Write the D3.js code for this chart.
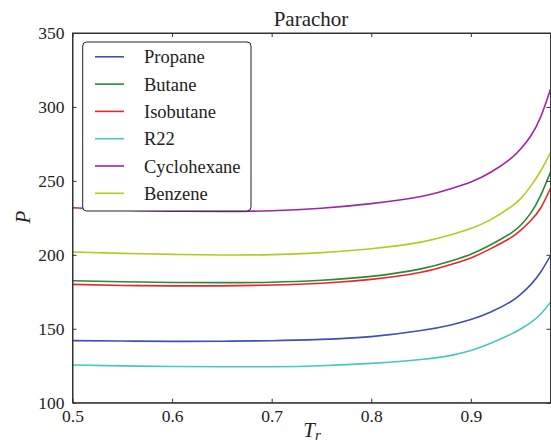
<!DOCTYPE html>
<html>
<head>
<meta charset="utf-8">
<script src="https://cdn.jsdelivr.net/npm/d3@7"></script>
<style>
  body { margin: 0; background: #fff; }
</style>
</head>
<body>
<svg width="551" height="444"></svg>
<script>
const svg = d3.select('svg');
const serif = '"Liberation Serif", "DejaVu Serif", serif';

// reduced temperature samples shared by all series
const tr = [0.5, 0.55, 0.6, 0.65, 0.7, 0.75, 0.8, 0.85, 0.88, 0.9, 0.92, 0.94, 0.95, 0.96, 0.97, 0.98];

const propane     = [142, 141.7, 141.5, 141.6, 141.9, 142.8, 144.7, 148.8, 152.6, 156.2, 161.3, 168.3, 173.3, 179.7, 188.2, 199.5];
const butane      = [182.5, 181.8, 181.3, 181.2, 181.5, 182.8, 185.4, 190.5, 195.8, 200.4, 206.8, 214.5, 220, 228, 240, 256];
const isobutane   = [180, 179.3, 179, 179, 179.6, 180.8, 183.4, 188.2, 193.5, 197.9, 204.2, 211.5, 216.5, 223, 231.5, 245];
const r22         = [125.5, 124.9, 124.5, 124.3, 124.3, 125, 126.6, 129.2, 132, 135.3, 140.2, 146.2, 149.8, 154.2, 159.8, 168];
const cyclohexane = [231.8, 230.3, 229.5, 229.3, 229.8, 231.5, 234.6, 239.4, 244.7, 249.2, 255.8, 265, 271.5, 280.2, 293, 312];
const benzene     = [201.9, 201, 200.3, 199.9, 200.1, 201.5, 204.1, 208.6, 213.5, 217.8, 223.8, 232.3, 238, 246.3, 256.5, 269];

const names  = ['Propane', 'Butane', 'Isobutane', 'R22', 'Cyclohexane', 'Benzene'];
const values = [propane, butane, isobutane, r22, cyclohexane, benzene];
const colors = ['#3f4fb8', '#268a3a', '#f02424', '#44c8c0', '#a024a4', '#b8c822'];

const xTicks = [0.5, 0.6, 0.7, 0.8, 0.9];
const yTicks = [100, 150, 200, 250, 300, 350];

const plotL = 72.5, plotR = 550.5, plotT = 33, plotB = 402.7;

const x = d3.scaleLinear().domain([0.5, 0.98]).range([plotL, plotR]);
const y = d3.scaleLinear().domain([100, 350]).range([plotB, plotT]);

svg.append('clipPath').attr('id', 'clip')
  .append('rect')
  .attr('x', plotL).attr('y', plotT)
  .attr('width', plotR - plotL).attr('height', plotB - plotT);

const line = d3.line()
  .x(function(d) { return x(d[0]); })
  .y(function(d) { return y(d[1]); })
  .curve(d3.curveNatural);

const series = names.map(function(n, i) {
  return { name: n, color: colors[i], pts: tr.map(function(t, j) { return [t, values[i][j]]; }) };
});

svg.append('g').attr('clip-path', 'url(#clip)')
  .selectAll('path')
  .data(series)
  .enter()
  .append('path')
    .attr('d', function(d) { return line(d.pts); })
    .attr('fill', 'none')
    .attr('stroke', function(d) { return d.color; })
    .attr('stroke-width', 1.6);

// axes, ticks pointing inward on all four sides
const tickFont = '17.5px';
svg.append('g')
  .attr('transform', 'translate(0,' + plotB + ')')
  .call(d3.axisBottom(x).tickValues(xTicks).tickSizeInner(-4).tickSizeOuter(0).tickPadding(7)
    .tickFormat(d3.format('.1f')))
  .call(function(g) { g.selectAll('text').style('font-size', tickFont); });

svg.append('g')
  .attr('transform', 'translate(' + plotL + ',0)')
  .call(d3.axisLeft(y).tickValues(yTicks).tickSizeInner(-4).tickSizeOuter(0).tickPadding(8))
  .call(function(g) { g.selectAll('text').style('font-size', tickFont); });

svg.append('g')
  .attr('transform', 'translate(0,' + plotT + ')')
  .call(d3.axisTop(x).tickValues(xTicks).tickSizeInner(-4).tickSizeOuter(0).tickFormat(''));

svg.append('g')
  .attr('transform', 'translate(' + plotR + ',0)')
  .call(d3.axisRight(y).tickValues(yTicks).tickSizeInner(-4).tickSizeOuter(0).tickFormat(''));

svg.selectAll('.domain').attr('stroke', '#333');
svg.selectAll('.tick line').attr('stroke', '#333');

svg.append('rect')
  .attr('x', plotL).attr('y', plotT)
  .attr('width', plotR - plotL).attr('height', plotB - plotT)
  .attr('fill', 'none').attr('stroke', '#333').attr('stroke-width', 1);

// title and axis labels
svg.append('text')
  .attr('x', 311).attr('y', 26)
  .attr('text-anchor', 'middle')
  .style('font-size', '21px')
  .text('Parachor');

const xl = svg.append('text')
  .attr('x', 312).attr('y', 437)
  .attr('text-anchor', 'middle')
  .style('font-size', '21px')
  .style('font-style', 'italic');
xl.append('tspan').text('T');
xl.append('tspan').attr('dy', 3).style('font-size', '15px').text('r');

svg.append('text')
  .attr('transform', 'translate(30,217) rotate(-90)')
  .attr('text-anchor', 'middle')
  .style('font-size', '21px')
  .style('font-style', 'italic')
  .text('P');

// legend
const legend = svg.append('g');
legend.append('rect')
  .attr('x', 82.7).attr('y', 42)
  .attr('width', 168.3).attr('height', 169)
  .attr('rx', 4)
  .attr('fill', '#fff').attr('stroke', '#222').attr('stroke-width', 1);

const item = legend.selectAll('g.item')
  .data(series)
  .enter()
  .append('g')
    .attr('class', 'item')
    .attr('transform', function(d, i) { return 'translate(0,' + (56.8 + i * 27.3) + ')'; });

item.append('line')
  .attr('x1', 95).attr('x2', 124)
  .attr('stroke', function(d) { return d.color; })
  .attr('stroke-width', 1.6);

item.append('text')
  .attr('x', 144).attr('y', 6.5)
  .style('font-size', '18.5px')
  .text(function(d) { return d.name; });

svg.selectAll('text').style('font-family', serif).attr('fill', '#222');
</script>
</body>
</html>
